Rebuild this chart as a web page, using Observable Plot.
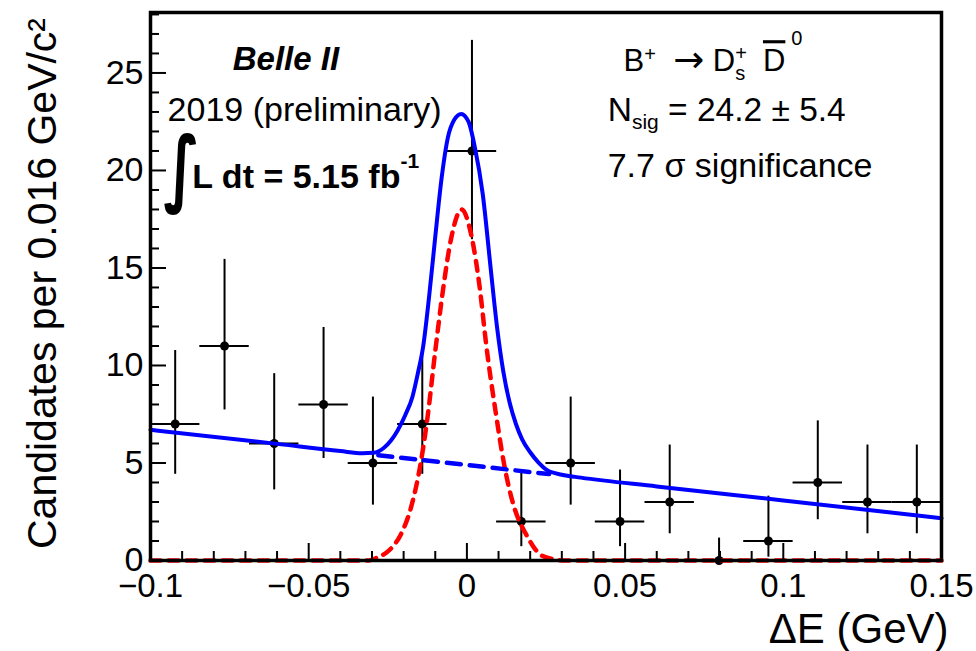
<!DOCTYPE html>
<html>
<head>
<meta charset="utf-8">
<script src="https://cdn.jsdelivr.net/npm/d3@7"></script>
<script src="https://cdn.jsdelivr.net/npm/@observablehq/plot@0.6"></script>
<style>
  html, body { margin: 0; padding: 0; background: #fff; }
  svg { display: block; }
</style>
</head>
<body>
<div id="chart"></div>
<script>
// ---- data ----
const binCenters = [-0.0922, -0.0766, -0.0609, -0.0453, -0.0297, -0.0141, 0.0016, 0.0172, 0.0328, 0.0484, 0.0641, 0.0797, 0.0953, 0.1109, 0.1266, 0.1422];
const counts     = [7, 11, 6, 8, 5, 7, 21, 2, 5, 2, 3, 0, 1, 4, 3, 3];
const errLow     = [4.42, 7.72, 3.62, 5.23, 2.84, 4.42, 16.45, 0.71, 2.84, 0.71, 1.37, 0, 0.17, 2.09, 1.37, 1.37];
const errHigh    = [10.77, 15.44, 9.58, 11.95, 8.38, 10.77, 26.67, 4.64, 8.38, 4.64, 5.92, 1.15, 3.30, 7.16, 5.92, 5.92];
const binHalfWidth = 0.0078125;

// total fit (solid blue)
const totalX = [-0.1, -0.06, -0.04, -0.033, -0.0295, -0.0262, -0.024, -0.0219, -0.0195, -0.0172, -0.0155, -0.0138, -0.0119, -0.0100, -0.0080, -0.0060, -0.0040, -0.0018, 0.0005, 0.0025, 0.0050, 0.0075, 0.0095, 0.0115, 0.0135, 0.0155, 0.0175, 0.0200, 0.0225, 0.0255, 0.0300, 0.0360, 0.0600, 0.1000, 0.1500];
const totalY = [6.70, 5.98, 5.61, 5.50, 5.52, 5.78, 6.15, 6.67, 7.45, 8.40, 9.60, 11.0, 13.6, 16.6, 19.6, 21.7, 22.6, 22.9, 22.5, 21.2, 18.8, 15.0, 12.0, 9.7, 8.1, 7.0, 6.2, 5.55, 5.05, 4.62, 4.40, 4.25, 3.80, 3.08, 2.17];
// background under the peak (dashed blue)
const bkgX = [-0.028, 0.026];
const bkgY = [5.40, 4.43];
// signal (dashed red)
const sigX = [-0.1, -0.031, -0.0283, -0.0255, -0.0235, -0.021, -0.0177, -0.0146, -0.0124, -0.0101, -0.0077, -0.005, -0.0017, 0.0015, 0.0042, 0.006, 0.0092, 0.0118, 0.015, 0.0175, 0.0192, 0.0215, 0.0234, 0.027, 0.031, 0.15];
const sigY = [0, 0, 0.15, 0.4, 0.7, 1.3, 2.7, 5.0, 7.4, 10.6, 13.7, 16.5, 18.0, 16.6, 13.8, 11.2, 7.5, 4.9, 2.7, 1.7, 1.2, 0.6, 0.28, 0.08, 0, 0];

// ticks
const xMajorTicks = [-0.1, -0.05, 0, 0.05, 0.1, 0.15];
const xTickLabels = ["\u22120.1", "\u22120.05", "0", "0.05", "0.1", "0.15"];
const xMinorTicks = [-0.09, -0.08, -0.07, -0.06, -0.04, -0.03, -0.02, -0.01, 0.01, 0.02, 0.03, 0.04, 0.06, 0.07, 0.08, 0.09, 0.11, 0.12, 0.13, 0.14];
const yMajorTicks = [0, 5, 10, 15, 20, 25];
const yTickLabels = ["0", "5", "10", "15", "20", "25"];
const yMinorTicks = [1, 2, 3, 4, 6, 7, 8, 9, 11, 12, 13, 14, 16, 17, 18, 19, 21, 22, 23, 24, 26, 27, 28];

const xLabel = "\u0394E (GeV)";
const yLabel = "Candidates per 0.016 GeV/c\u00B2";

// ---- build tables ----
const points = binCenters.map((x, i) => ({x, n: counts[i], lo: errLow[i], hi: errHigh[i]}));
const total = totalX.map((x, i) => ({x, y: totalY[i]}));
const bkg = bkgX.map((x, i) => ({x, y: bkgY[i]}));
const sig = sigX.map((x, i) => ({x, y: sigY[i]}));

const W = 976, H = 651, mL = 150, mR = 35, mT = 12, mB = 91;
const plotW = W - mL - mR, plotH = H - mT - mB;
const FONT = "'Liberation Sans', Arial, Helvetica, sans-serif";

const svg = Plot.plot({
  width: W, height: H,
  marginLeft: mL, marginRight: mR, marginTop: mT, marginBottom: mB,
  style: {fontFamily: FONT, background: "#fff", color: "#000", overflow: "visible"},
  x: {domain: [-0.1, 0.15]},
  y: {domain: [0, 28.1]},
  marks: [
    // data points with error bars
    Plot.ruleX(points, {x: "x", y1: "lo", y2: "hi", stroke: "#000", strokeWidth: 2}),
    Plot.ruleY(points, {y: "n", x1: d => d.x - binHalfWidth, x2: d => d.x + binHalfWidth, stroke: "#000", strokeWidth: 2}),
    Plot.dot(points, {x: "x", y: "n", r: 4.5, fill: "#000"}),
    // fit curves
    Plot.line(sig, {x: "x", y: "y", stroke: "#ff0000", strokeWidth: 4.5, strokeDasharray: "10,8", curve: "monotone-x"}),
    Plot.line(bkg, {x: "x", y: "y", stroke: "#0000ff", strokeWidth: 4.5, strokeDasharray: "14,9"}),
    Plot.line(total, {x: "x", y: "y", stroke: "#0000ff", strokeWidth: 4, curve: "monotone-x"}),
    // inward ticks
    Plot.ruleX(xMajorTicks, {x: d => d, insetTop: plotH - 17, stroke: "#000", strokeWidth: 2}),
    Plot.ruleX(xMinorTicks, {x: d => d, insetTop: plotH - 9, stroke: "#000", strokeWidth: 2}),
    Plot.ruleY(yMajorTicks, {y: d => d, insetRight: plotW - 16, stroke: "#000", strokeWidth: 2}),
    Plot.ruleY(yMinorTicks, {y: d => d, insetRight: plotW - 9, stroke: "#000", strokeWidth: 2}),
    // tick labels
    Plot.axisX({ticks: xMajorTicks, tickFormat: d => xTickLabels[xMajorTicks.indexOf(d)], tickSize: 0, tickPadding: 13, fontSize: 33, label: null}),
    Plot.axisY({ticks: yMajorTicks, tickFormat: d => yTickLabels[yMajorTicks.indexOf(d)], tickSize: 0, tickPadding: 7, fontSize: 34, label: null}),
    // axis titles
    Plot.text([xLabel], {text: d => d, frameAnchor: "bottom-right", textAnchor: "end", lineAnchor: "bottom", dx: 7, dy: 82, fontSize: 42}),
    Plot.text([yLabel], {text: d => d, frameAnchor: "left", rotate: -90, textAnchor: "middle", lineAnchor: "middle", dx: -108, dy: -3, fontSize: 41}),
    // annotations
    Plot.text(["Belle II"], {x: -0.0740, y: 25.13, text: d => d, textAnchor: "start", lineAnchor: "bottom", fontSize: 33, fontWeight: "bold", fontStyle: "italic"}),
    Plot.text(["2019 (preliminary)"], {x: -0.0946, y: 22.56, text: d => d, textAnchor: "start", lineAnchor: "bottom", fontSize: 34}),
    Plot.text(["\u222B"], {x: -0.0959, y: 20.05, text: d => d, textAnchor: "start", lineAnchor: "middle", fontSize: 76, fontFamily: "'DejaVu Sans'", fontWeight: "bold", className: "ann-int"}),
    Plot.text(["L dt = 5.15 fb-1"], {x: -0.0868, y: 19.08, text: d => d, textAnchor: "start", lineAnchor: "bottom", fontSize: 34, fontWeight: "bold", className: "ann-lumi"}),
    Plot.text(["B+ \u2192 Ds+ D0"], {x: 0.0495, y: 25.09, text: d => d, textAnchor: "start", lineAnchor: "bottom", fontSize: 31, className: "ann-decay"}),
    Plot.text(["Nsig = 24.2 \u00B1 5.4"], {x: 0.0445, y: 22.56, text: d => d, textAnchor: "start", lineAnchor: "bottom", fontSize: 33.5, className: "ann-nsig"}),
    Plot.text(["7.7 \u03C3 significance"], {x: 0.0445, y: 19.64, text: d => d, textAnchor: "start", lineAnchor: "bottom", fontSize: 34}),
    // frame
    Plot.frame({stroke: "#000", strokeWidth: 3.5})
  ]
});

// rich text (sub/superscripts, overline) built as tspans
function rich(cls, parts) {
  const t = d3.select(svg).select(`.${cls} text`);
  if (t.empty()) return;
  t.text(null);
  for (const p of parts) {
    const s = t.append("tspan").text(p.t);
    if (p.size) s.attr("font-size", p.size);
    if (p.font) s.attr("font-family", p.font);
    if (p.dx != null) s.attr("dx", p.dx);
    if (p.dy != null) s.attr("dy", p.dy);
    if (p.bar) s.attr("text-decoration", "overline").style("text-decoration-thickness", "4px");
  }
}
rich("ann-lumi", [{t: "L dt = 5.15 fb"}, {t: "-1", size: 21, dy: -20}]);
rich("ann-decay", [
  {t: "B"}, {t: "+", size: 20, dy: -10},
  {t: "  ", dy: 10}, {t: "\u2192", font: "'DejaVu Sans'", size: 37, dy: 1}, {t: " D", dy: -1}, {t: "+", size: 20, dy: -11},
  {t: "s", size: 20, dx: -11.5, dy: 20},
  {t: " ", dy: -9}, {t: "D", bar: true, dx: 9},
  {t: "0", size: 20, dx: 6, dy: -26}
]);
rich("ann-nsig", [{t: "N"}, {t: "sig", size: 21, dy: 8}, {t: " = 24.2 \u00B1 5.4", dy: -8}]);

// narrow, tall integral sign
{
  const it = d3.select(svg).select(".ann-int text");
  if (!it.empty()) {
    const tr = it.attr("transform");
    if (tr) it.attr("transform", tr + " scale(0.78,1.1)");
    else {
      const x0 = +it.attr("x") || 0;
      it.attr("transform", `translate(${x0},0) scale(0.78,1.1) translate(${-x0},0)`);
    }
  }
}

document.getElementById("chart").appendChild(svg);
</script>
</body>
</html>
